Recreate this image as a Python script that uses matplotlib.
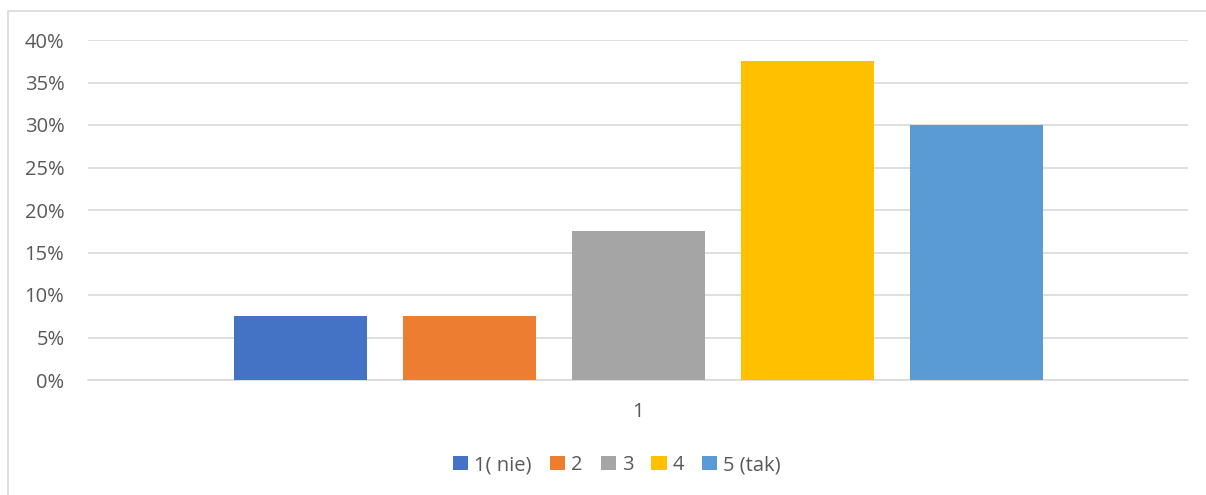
import numpy as np
import matplotlib.pyplot as plt
from matplotlib.patches import Rectangle
from matplotlib.ticker import PercentFormatter

# Data
category = ['1']
series = ['1( nie)', '2', '3', '4', '5 (tak)']
values = [7.5, 7.5, 17.5, 37.5, 30.0]
colors = ['#4472C4', '#ED7D31', '#A5A5A5', '#FFC000', '#5B9BD5']

W, H = 1206, 495
fig = plt.figure(figsize=(W / 100, H / 100), dpi=100)
plt.rcParams['font.family'] = ['Open Sans', 'DejaVu Sans']

# plot area in pixel terms
ax = fig.add_axes([88 / W, 1 - 380 / H, 1100 / W, 340 / H])

offsets = np.arange(len(series)) - 2
bar_w = 133 / 169
for off, v, c, name in zip(offsets, values, colors, series):
    ax.bar(off, v, width=bar_w, color=c, label=name, zorder=3)

ax.set_xlim(-550 / 169, 550 / 169)
ax.set_ylim(0, 40)
ax.set_yticks(np.arange(0, 41, 5))
ax.yaxis.set_major_formatter(PercentFormatter(decimals=0))
ax.set_xticks([0])
ax.set_xticklabels(category)
ax.grid(axis='y', color='#d9d9d9', linewidth=1.2, zorder=0)
for s in ['top', 'right', 'left']:
    ax.spines[s].set_visible(False)
ax.spines['bottom'].set_color('#d9d9d9')
ax.spines['bottom'].set_linewidth(1.2)
ax.tick_params(axis='both', length=0, colors='#595959', labelsize=14.5)
ax.tick_params(axis='y', pad=17)
ax.tick_params(axis='x', pad=16)

# chart frame
fig.patches.append(Rectangle((7.5 / W, -0.1), 1.2, 1 - 11 / H + 0.1,
                             transform=fig.transFigure, fill=False,
                             edgecolor='#d9d9d9', linewidth=1.2))

fig.legend(loc='center', bbox_to_anchor=(617 / W, 1 - 465 / H), ncol=5,
           frameon=False, fontsize=14.5, labelcolor='#595959',
           handlelength=0.75, handleheight=0.75, handletextpad=0.3,
           columnspacing=0.9)

fig.savefig('out.png', dpi=100)
